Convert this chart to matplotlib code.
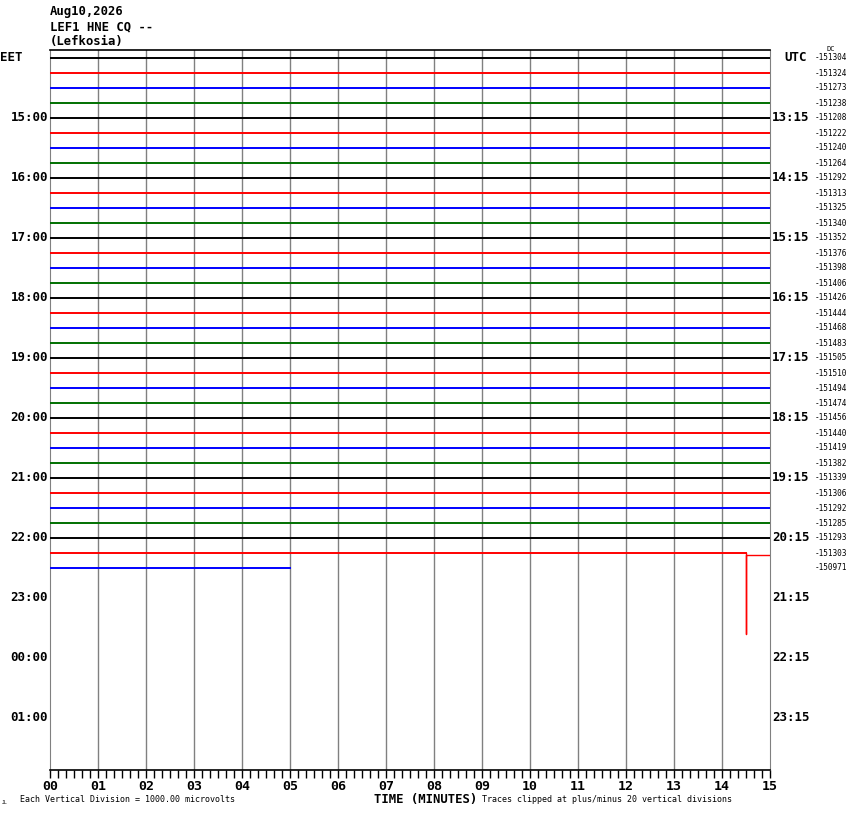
import matplotlib
matplotlib.use("Agg")
import matplotlib.pyplot as plt
import numpy as np

# ---------------------------------------------------------------------------
# Data read off the helicorder
# ---------------------------------------------------------------------------
header_lines = ["Aug10,2026", "LEF1 HNE CQ --", "(Lefkosia)"]
row_colors = ["black", "red", "blue", "#007000"]
n_rows = 48                      # 12 hours, 15 minutes per row

# end time (minutes) of each recorded row; rows 0..32 are full
trace_end = [15.0] * 33 + [15.0, 5.0]

# clipped step in row 33 (minutes, offset in vertical divisions)
step_time = 14.5
step_low = 5.43
step_after = 0.17

dc_values = [
    -151304, -151324, -151273, -151238, -151208, -151222, -151240, -151264,
    -151292, -151313, -151325, -151340, -151352, -151376, -151398, -151406,
    -151426, -151444, -151468, -151483, -151505, -151510, -151494, -151474,
    -151456, -151440, -151419, -151382, -151339, -151306, -151292, -151285,
    -151293, -151303, -150971,
]

local_labels = ["EET", "15:00", "16:00", "17:00", "18:00", "19:00", "20:00",
                "21:00", "22:00", "23:00", "00:00", "01:00"]
utc_labels = ["UTC", "13:15", "14:15", "15:15", "16:15", "17:15", "18:15",
              "19:15", "20:15", "21:15", "22:15", "23:15"]
minute_labels = ["%02d" % m for m in range(16)]

# ---------------------------------------------------------------------------
# Figure
# ---------------------------------------------------------------------------
W, H = 850, 814
fig = plt.figure(figsize=(W / 100, H / 100), dpi=100)
fig.patch.set_facecolor("white")

left, right, top, bottom = 50, 770, 50, 770
ax = fig.add_axes([left / W, 1 - bottom / H, (right - left) / W, (bottom - top) / H])
ax.set_xlim(0, 15)
ax.set_ylim(n_rows, 0)

mono = "DejaVu Sans Mono"


def fx(px):
    return px / W


def fy(py):
    return 1 - py / H


# vertical minute lines
for m in range(1, 15):
    ax.axvline(m, color="#808080", lw=1.0, zorder=1)

# traces
for i, end in enumerate(trace_end):
    y0 = i + 0.5
    c = row_colors[i % 4]
    if i == 33:
        xs = [0, step_time, step_time, step_time, 15]
        ys = [y0, y0, y0 + step_low, y0 + step_after, y0 + step_after]
        ax.plot(xs[:2], ys[:2], color=c, lw=1.4, zorder=3)
        ax.plot(xs[1:], ys[1:], color=c, lw=1.0, zorder=3)
    else:
        ax.plot([0, end], [y0, y0], color=c, lw=1.4, zorder=3)

# spines
for s in ["left", "right"]:
    ax.spines[s].set_color("#808080")
for s in ["top", "bottom"]:
    ax.spines[s].set_color("black")
    ax.spines[s].set_linewidth(1.2)

ax.set_yticks([])
ax.set_xticks(range(16))
ax.set_xticks(np.arange(0, 15.01, 1 / 6), minor=True)
ax.set_xticklabels(minute_labels, fontfamily=mono, fontweight="bold", fontsize=9.5)
ax.tick_params(axis="x", which="both", direction="out", length=6, width=1,
               color="black", pad=1)

# hour labels, left and right
for k in range(12):
    py = 57.5 + 60 * k
    if k == 0:
        fig.text(fx(0), fy(py), local_labels[k], ha="left", va="center",
                 fontfamily=mono, fontweight="bold", fontsize=9)
        fig.text(fx(784), fy(py), utc_labels[k], ha="left", va="center",
                 fontfamily=mono, fontweight="bold", fontsize=9)
    else:
        fig.text(fx(48), fy(py), local_labels[k], ha="right", va="center",
                 fontfamily=mono, fontweight="bold", fontsize=9)
        fig.text(fx(772), fy(py), utc_labels[k], ha="left", va="center",
                 fontfamily=mono, fontweight="bold", fontsize=9)

# DC offset per row
for i, v in enumerate(dc_values):
    py = 58 + 15 * i
    fig.text(fx(847), fy(py), str(v), ha="right", va="center",
             fontfamily=mono, fontsize=5.6)
fig.text(fx(831), fy(49), "DC", ha="center", va="center",
         fontfamily=mono, fontsize=5)

# header
for j, line in enumerate(header_lines):
    fig.text(fx(50), fy(12 + 15 * j), line, ha="left", va="center",
             fontfamily=mono, fontweight="bold", fontsize=8.8)

# footer
fig.text(fx(426), fy(799), "TIME (MINUTES)", ha="center", va="center",
         fontfamily=mono, fontweight="bold", fontsize=8.8)
fig.text(fx(20), fy(800), "Each Vertical Division = 1000.00 microvolts",
         ha="left", va="center", fontfamily=mono, fontsize=6)
fig.text(fx(482), fy(800), "Traces clipped at plus/minus 20 vertical divisions",
         ha="left", va="center", fontfamily=mono, fontsize=6)
fig.text(fx(2), fy(802), "JL", ha="left", va="center",
         fontfamily=mono, fontsize=3.5)

fig.savefig("out.png", dpi=100, facecolor="white")
